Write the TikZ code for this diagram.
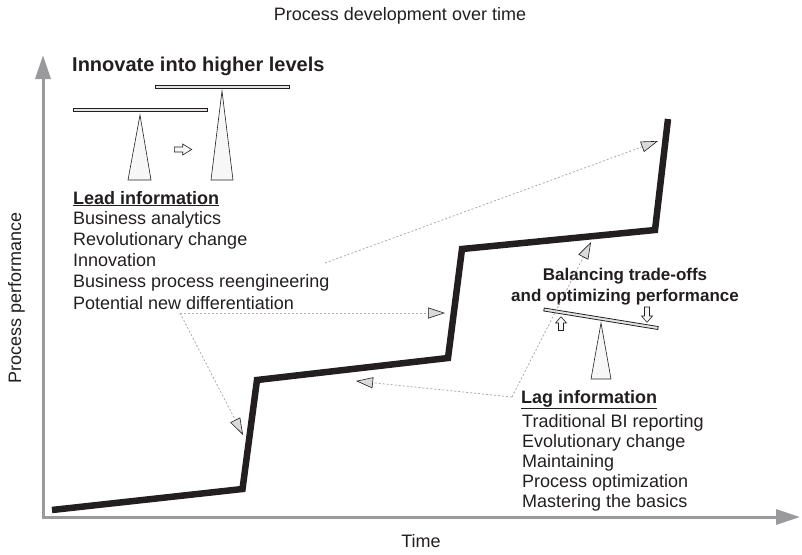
\documentclass[tikz,border=0pt]{standalone}
\usepackage{fontspec}
\setmainfont{Liberation Sans}
\usetikzlibrary{arrows.meta}
\definecolor{axisgray}{HTML}{9A9A9C}
\definecolor{inkblack}{HTML}{231F20}
\definecolor{dotgray}{HTML}{AAAAAA}
\definecolor{tipfill}{HTML}{DADADA}
\definecolor{fulcfill}{HTML}{F7F7F7}
\definecolor{beamfill}{HTML}{E4E4E4}
\begin{document}
\begin{tikzpicture}[x=1pt,y=-1pt,
  txt/.style={inner sep=0pt, anchor=base west, text=inkblack, font=\fontsize{18}{20}\selectfont},
  boldtxt/.style={inner sep=0pt, text=inkblack, font=\bfseries\fontsize{18}{20}\selectfont},
  axis/.style={draw=axisgray, line width=3pt, line join=miter,
    {Triangle[length=24pt,width=15pt,fill=axisgray,color=axisgray]}-{Triangle[length=24pt,width=15pt,fill=axisgray,color=axisgray]}},
  stepline/.style={draw=inkblack, line width=6.5pt, line join=miter},
  dotcon/.style={draw=dotgray, line width=0.8pt, dash pattern=on 2pt off 2pt,
    -{Triangle[length=17pt,width=11pt,fill=tipfill,color=inkblack,line width=0.6pt]}},
  beam/.style={draw=inkblack, fill=beamfill, line width=0.8pt, line join=miter},
  fulc/.style={draw=inkblack, fill=fulcfill, line width=0.6pt, line join=miter},
  blockarrow/.style={draw=inkblack, fill=fulcfill, line width=0.6pt, line join=miter}
]
\useasboundingbox (0,0) rectangle (802,554);

% axes
\coordinate (ytip) at (43,55);
\coordinate (origin) at (43,517);
\coordinate (xtip) at (800,517);
\draw[axis] (ytip) -- (origin) -- (xtip);

% step line
\coordinate (s0) at (52,510);
\coordinate (s1) at (242.5,489);
\coordinate (s2) at (257,380);
\coordinate (s3) at (448,358);
\coordinate (s4) at (462,249);
\coordinate (s5) at (655,230);
\coordinate (s6) at (668,119);
\draw[stepline] (s0) -- (s1) -- (s2) -- (s3) -- (s4) -- (s5) -- (s6);

% titles
\node[txt, anchor=base] (title) at (400,20.5) {Process development over time};
\node[txt, anchor=base] (xlabel) at (421,547) {Time};
\node[txt, anchor=base, rotate=90] (ylabel) at (21,298) {Process performance};
\node[boldtxt, anchor=base west, font=\bfseries\fontsize{20}{22}\selectfont] (innov) at (72,71) {Innovate into higher levels};

% left balances
\draw[beam] (73,108.5) rectangle (207,111.5);
\draw[beam] (155,85.5) rectangle (289,88.5);
\draw[fulc] (140,115) -- (151,180) -- (128,180) -- cycle;
\draw[fulc] (222,91) -- (233,180) -- (211,180) -- cycle;
\draw[blockarrow] (174.3,147) -- (182.7,147) -- (182.7,144) -- (191.7,149.5) -- (182.7,155) -- (182.7,152) -- (174.3,152) -- cycle;

% lead information
\node[boldtxt, anchor=base west] (leadh) at (73,204) {\underline{Lead information}};
\node[txt] (lead1) at (73,224) {Business analytics};
\node[txt] (lead2) at (73,245) {Revolutionary change};
\node[txt] (lead3) at (73,266) {Innovation};
\node[txt] (lead4) at (73,287) {Business process reengineering};
\node[txt] (lead5) at (73,309) {Potential new differentiation};

% right balance
\node[boldtxt, anchor=base, font=\bfseries\fontsize{17}{19}\selectfont] (bal1) at (625,280) {Balancing trade-offs};
\node[boldtxt, anchor=base, font=\bfseries\fontsize{17}{19}\selectfont] (bal2) at (625,301) {and optimizing performance};
\draw[beam] (544.24,308.02) -- (658.24,326.52) -- (657.76,329.48) -- (543.76,310.98) -- cycle;
\draw[fulc] (601,323) -- (611,379) -- (591,379) -- cycle;
\draw[blockarrow] (561,316.7) -- (566.5,323) -- (563.5,323) -- (563.5,330.5) -- (558.5,330.5) -- (558.5,323) -- (555.5,323) -- cycle;
\draw[blockarrow] (647,322.3) -- (652.5,316) -- (649.5,316) -- (649.5,307) -- (644.5,307) -- (644.5,316) -- (641.5,316) -- cycle;

% lag information
\node[boldtxt, anchor=base west] (lagh) at (521,403) {\underline{Lag information}};
\node[txt] (lag1) at (522,427) {Traditional BI reporting};
\node[txt] (lag2) at (522,447) {Evolutionary change};
\node[txt] (lag3) at (522,467) {Maintaining};
\node[txt] (lag4) at (522,487) {Process optimization};
\node[txt] (lag5) at (522,507) {Mastering the basics};

% dotted connectors
\coordinate (ldA) at (325,263);
\coordinate (ldB) at (180,313);
\coordinate (tp1) at (658,141);
\coordinate (tp2) at (445,313);
\coordinate (tp3) at (243,435);
\coordinate (lgA) at (512,397);
\coordinate (tp4) at (356,381);
\coordinate (tp5) at (591,242);
\draw[dotcon] (ldA) -- (tp1);
\draw[dotcon] (ldB) -- (tp2);
\draw[dotcon] (ldB) -- (tp3);
\draw[dotcon] (lgA) -- (tp4);
\draw[dotcon] (lgA) -- (tp5);
\end{tikzpicture}
\end{document}
